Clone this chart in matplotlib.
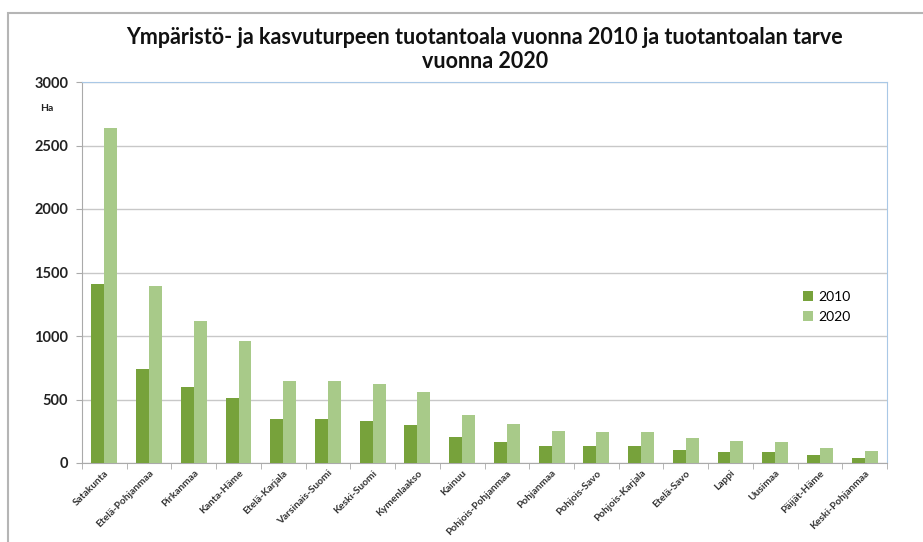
import numpy as np
import matplotlib.pyplot as plt
from matplotlib.patches import Rectangle

regions = ['Satakunta', 'Etelä-Pohjanmaa', 'Pirkanmaa', 'Kanta-Häme', 'Etelä-Karjala',
           'Varsinais-Suomi', 'Keski-Suomi', 'Kymenlaakso', 'Kainuu', 'Pohjois-Pohjanmaa',
           'Pohjanmaa', 'Pohjois-Savo', 'Pohjois-Karjala', 'Etelä-Savo', 'Lappi',
           'Uusimaa', 'Päijät-Häme', 'Keski-Pohjanmaa']
area_2010 = [1410, 742, 600, 513, 347, 345, 333, 300, 205, 165, 135, 130, 130, 100, 90, 85, 60, 40]
area_2020 = [2640, 1390, 1120, 963, 647, 645, 620, 560, 380, 310, 255, 245, 245, 195, 175, 165, 120, 95]
y_ticks = [0, 500, 1000, 1500, 2000, 2500, 3000]

plt.rcParams['font.family'] = ['Lato', 'DejaVu Sans']

fig = plt.figure(figsize=(9.23, 5.42), dpi=100)
ax = fig.add_axes([82 / 923, 1 - 463 / 542, (887 - 82) / 923, (463 - 82) / 542])

# outer chart frame
fig.add_artist(Rectangle((8 / 923, -0.1), 1.0, 0.1 + (542 - 13) / 542,
                         transform=fig.transFigure, fill=False,
                         edgecolor='#b5b5b5', linewidth=1.5))

x = np.arange(len(regions))
w = 0.29
ax.bar(x - w / 2, area_2010, width=w, color='#77a23b', label='2010', zorder=3)
ax.bar(x + w / 2, area_2020, width=w, color='#a8ca89', label='2020', zorder=3)

ax.set_xlim(-0.5, len(regions) - 0.5)
ax.set_ylim(0, 3000)
ax.set_yticks(y_ticks)
ax.set_yticklabels([str(t) for t in y_ticks], fontsize=10.5, fontweight='bold', color='#222222')
ax.yaxis.grid(True, color='#c8c8c8', linewidth=1, zorder=0)
ax.tick_params(axis='y', length=4, color='#aaaaaa', pad=6)

# category boundary ticks
ax.set_xticks(np.arange(len(regions) + 1) - 0.5, minor=True)
ax.set_xticks(x)
ax.set_xticklabels(regions, rotation=45, ha='right', rotation_mode='anchor',
                   fontsize=7.3, fontweight='bold', color='#333333')
ax.tick_params(axis='x', which='major', length=0, pad=4)
ax.tick_params(axis='x', which='minor', length=4, color='#aaaaaa')

for s in ['left', 'bottom']:
    ax.spines[s].set_color('#aaaaaa')
for s in ['top', 'right']:
    ax.spines[s].set_color('#a9c8e6')

ax.text(-0.035, 0.93, 'Ha', transform=ax.transAxes, fontsize=7.5, fontweight='bold',
        ha='right', va='center', color='#222222')

fig.text(0.525, 1 - 37 / 542, 'Ympäristö- ja kasvuturpeen tuotantoala vuonna 2010 ja tuotantoalan tarve',
         ha='center', va='center', fontsize=15.5, fontweight='bold', color='#111111')
fig.text(0.525, 1 - 61 / 542, 'vuonna 2020', ha='center', va='center',
         fontsize=15.5, fontweight='bold', color='#111111')

ax.legend(loc='upper left', bbox_to_anchor=(0.88, 0.485), frameon=False, fontsize=10,
          handlelength=0.7, handleheight=0.7, handletextpad=0.4, labelspacing=0.6)

fig.savefig('out.png', dpi=100, facecolor='white')
